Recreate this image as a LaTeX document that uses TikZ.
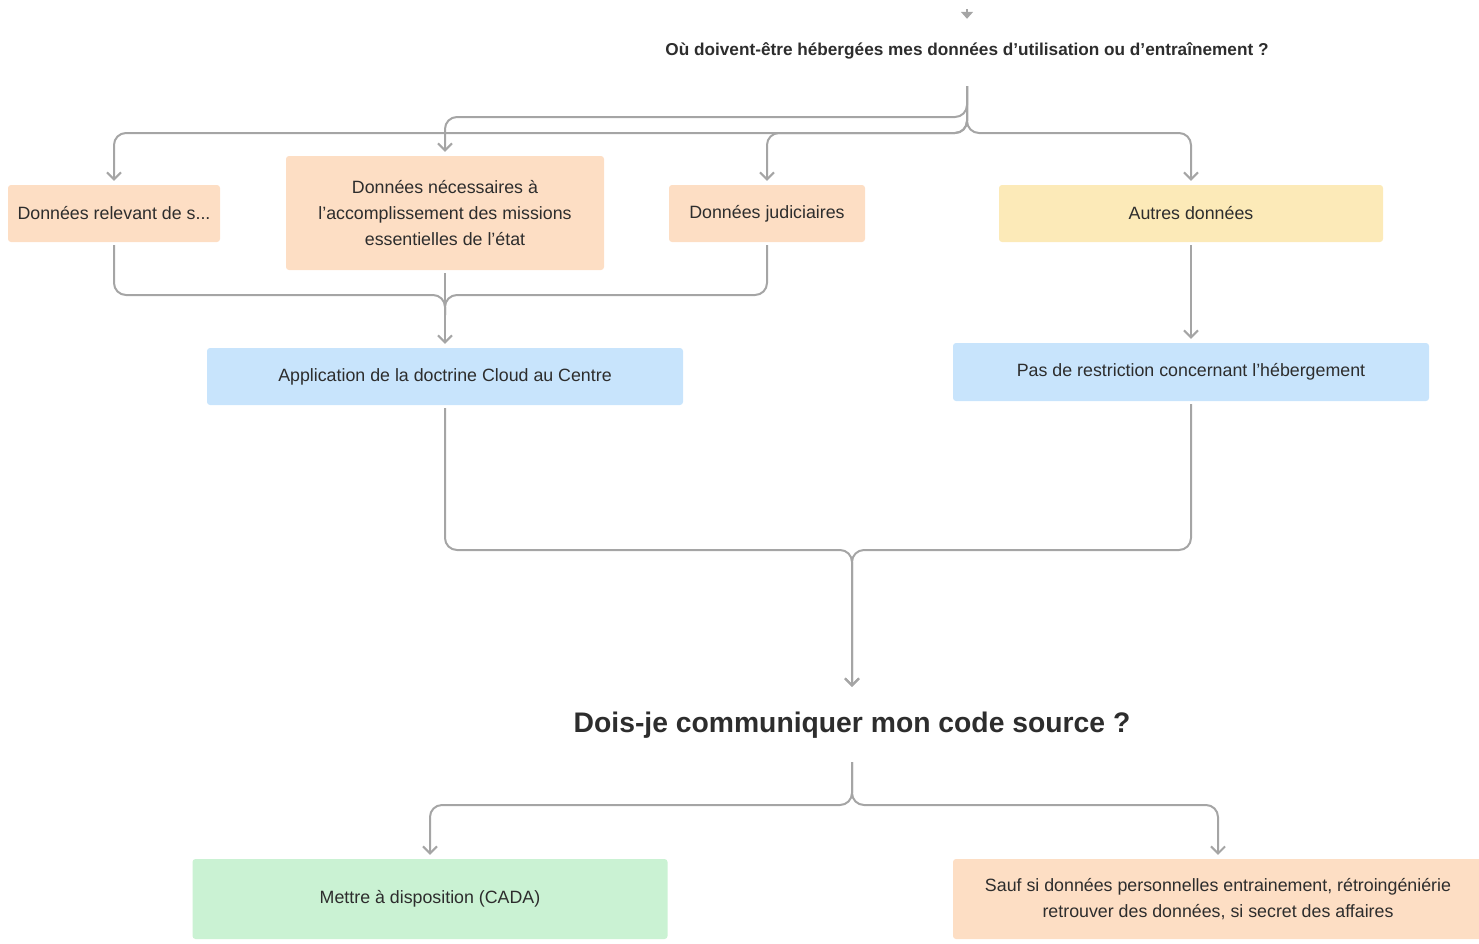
\documentclass[tikz,border=0pt]{standalone}
\usepackage{fontspec}
\setmainfont{Liberation Sans}
\usetikzlibrary{arrows.meta, positioning}
\definecolor{peach}{RGB}{253,222,196}
\definecolor{sand}{RGB}{252,234,184}
\definecolor{sky}{RGB}{200,228,252}
\definecolor{mint}{RGB}{202,242,211}
\definecolor{linegray}{RGB}{165,165,165}
\definecolor{textgray}{RGB}{45,45,45}
\begin{document}
\begin{tikzpicture}[x=1pt, y=-1pt, text=textgray,
    font=\fontsize{17.8}{26}\selectfont,
    box/.style={rectangle, rounded corners=3pt, align=center, inner sep=0pt},
    question/.style={font=\fontsize{17.2}{26}\selectfont\bfseries, minimum height=64pt},
    conn/.style={draw=linegray, line width=2pt, rounded corners=12pt,
        -{Straight Barb[length=7pt,width=14pt]}, shorten >=4pt, shorten <=3pt},
    mergeline/.style={draw=linegray, line width=2pt, rounded corners=12pt, shorten <=3pt}]
    \useasboundingbox (0,0) rectangle (1479,943);

    % question sur l'hébergement
    \coordinate (top) at (967,9);
    \node[question] (qa) at (967,51) {Où doivent-être hébergées mes données d’utilisation ou d’entraînement ?};
    \draw[draw=linegray, line width=2pt, -{Triangle[length=7pt,width=12pt]}] (top) -- (qa.north);

    % types de données
    \node[box, fill=peach, minimum width=212pt, minimum height=57pt] (b1) at (114,213.5) {Données relevant de s...};
    \node[box, fill=peach, minimum width=318pt, minimum height=114pt] (b2) at (445,213) {Données nécessaires à\\l’accomplissement des missions\\essentielles de l’état};
    \node[box, fill=peach, minimum width=196pt, minimum height=57pt] (b3) at (767,213.5) {Données judiciaires};
    \node[box, fill=sand, minimum width=384pt, minimum height=57pt] (b4) at (1191,213.5) {Autres données};

    % branches depuis la question
    \coordinate (rowA) at (0,117);
    \coordinate (rowB) at (0,133);
    \draw[conn] (qa.south) |- (b2.north |- rowA) -- (b2.north);
    \foreach \b in {b1,b3,b4} {
        \draw[conn] (qa.south) |- (\b.north |- rowB) -- (\b.north);
    }

    % hébergement
    \node[box, fill=sky, minimum width=476pt, minimum height=57pt] (b5) at (445,376.5) {Application de la doctrine Cloud au Centre};
    \node[box, fill=sky, minimum width=476pt, minimum height=58pt] (b6) at (1191,372) {Pas de restriction concernant l’hébergement};

    \coordinate (rowC) at (0,295);
    \foreach \b in {b1,b3} {
        \draw[mergeline] (\b.south) |- (b5.north |- rowC) -- ++(0,20);
    }
    \draw[conn] (b2.south) -- (b5.north);
    \draw[conn] (b4.south) -- (b6.north);

    % question sur le code source
    \node[question, font=\fontsize{28.3}{32}\selectfont\bfseries, minimum height=68pt] (qb) at (852,725) {Dois-je communiquer mon code source ?};

    \coordinate (rowD) at (0,550);
    \foreach \b in {b5,b6} {
        \draw[conn] (\b.south) |- (qb.north |- rowD) -- (qb.north);
    }

    % réponses
    \node[box, fill=mint, minimum width=475pt, minimum height=80pt] (b7) at (430,899) {Mettre à disposition (CADA)};
    \node[box, fill=peach, minimum width=530pt, minimum height=80pt] (b8) at (1218,899) {Sauf si données personnelles entrainement, rétroingéniérie\\retrouver des données, si secret des affaires};

    \coordinate (rowE) at (0,805);
    \foreach \b in {b7,b8} {
        \draw[conn] (qb.south) |- (\b.north |- rowE) -- (\b.north);
    }
\end{tikzpicture}
\end{document}
